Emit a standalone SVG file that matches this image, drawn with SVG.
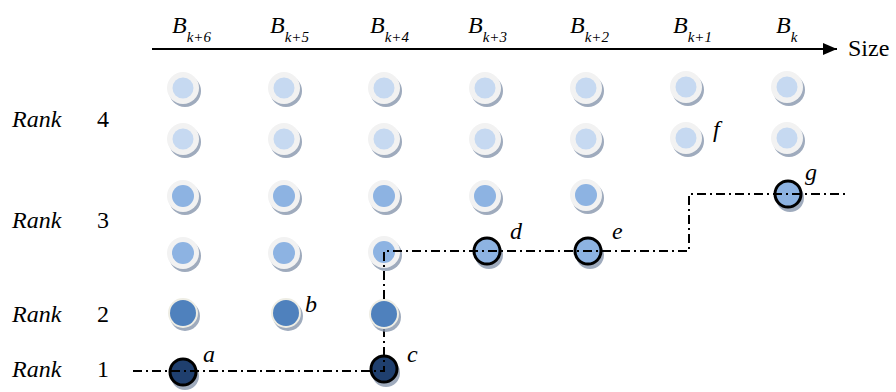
<svg xmlns="http://www.w3.org/2000/svg" width="896" height="392" viewBox="0 0 896 392">
<style>
  text { fill: #000; font-family: "Liberation Serif", Tinos, "Times New Roman", Times, "Nimbus Roman", "DejaVu Serif", "Noto Serif", serif; }
  .lbl { font-size: 24px; font-style: italic; }
  .rk { font-size: 24px; }
  .hb { font-size: 24px; font-style: italic; }
  .sub { font-size: 15px; font-style: italic; }
  .sh { fill: #8796ad; opacity: 0.8; }
  .ring { fill: #f2f2f2; }
  .ring2 { fill: #eeede4; }
  .r4 { fill: #c6d9f1; }
  .r3 { fill: #8db3e2; }
  .r2 { fill: #4f81bd; }
  .sel3 { fill: #8db3e2; stroke: #000; stroke-width: 3; }
  .sel1 { fill: #1f3f6e; stroke: #000; stroke-width: 3; }
  .path { fill: none; stroke: #000; stroke-width: 2; stroke-dasharray: 9 4 2 4; }
</style>
<defs>
  <g id="n4"><circle class="sh" cx="2" cy="3" r="16"/><circle class="ring" r="16"/><circle class="r4" r="10.5"/></g>
  <g id="n3"><circle class="sh" cx="2" cy="3" r="16"/><circle class="ring" r="16"/><circle class="r3" r="11"/></g>
  <g id="n2"><circle class="sh" cx="2" cy="3" r="15"/><circle class="ring2" r="15"/><circle class="r2" r="13"/></g>
  <g id="s3"><circle class="sh" cx="2" cy="4" r="14"/><circle class="sel3" r="13"/></g>
  <g id="s1"><circle class="sh" cx="2" cy="4" r="14"/><circle class="sel1" r="13"/></g>
  <marker id="arr" markerWidth="14" markerHeight="12" refX="14" refY="6" orient="auto" markerUnits="userSpaceOnUse">
    <path d="M0,0 L14,6 L0,12 Z" fill="#000"/>
  </marker>
</defs>
<g id="axis">
  <line x1="152" y1="49" x2="837" y2="49" stroke="#000" stroke-width="2.2" marker-end="url(#arr)"/>
  <text x="848" y="56" class="rk">Size</text>
  <text x="172" y="33" class="hb">B<tspan class="sub" dy="9">k+6</tspan></text>
  <text x="270" y="33" class="hb">B<tspan class="sub" dy="9">k+5</tspan></text>
  <text x="370" y="33" class="hb">B<tspan class="sub" dy="9">k+4</tspan></text>
  <text x="468" y="33" class="hb">B<tspan class="sub" dy="9">k+3</tspan></text>
  <text x="570" y="33" class="hb">B<tspan class="sub" dy="9">k+2</tspan></text>
  <text x="673" y="33" class="hb">B<tspan class="sub" dy="9">k+1</tspan></text>
  <text x="776" y="33" class="hb">B<tspan class="sub" dy="9">k</tspan></text>
</g>

<g id="ranks">
  <text x="12" y="127" class="lbl">Rank</text><text x="97" y="127" class="rk">4</text>
  <text x="12" y="228" class="lbl">Rank</text><text x="97" y="228" class="rk">3</text>
  <text x="12" y="322" class="lbl">Rank</text><text x="97" y="322" class="rk">2</text>
  <text x="12" y="377" class="lbl">Rank</text><text x="97" y="377" class="rk">1</text>
</g>

<g id="rank4">
  <use href="#n4" x="183" y="88"/><use href="#n4" x="284" y="88"/><use href="#n4" x="384" y="88"/><use href="#n4" x="485" y="88"/><use href="#n4" x="586" y="88"/><use href="#n4" x="686" y="87"/><use href="#n4" x="787" y="87"/>
  <use href="#n4" x="183" y="139"/><use href="#n4" x="284" y="139"/><use href="#n4" x="384" y="139"/><use href="#n4" x="485" y="139"/><use href="#n4" x="586" y="139"/><use href="#n4" x="686" y="138"/><use href="#n4" x="787" y="138"/>
</g>
<g id="rank3">
  <use href="#n3" x="183" y="196"/><use href="#n3" x="284" y="196"/><use href="#n3" x="384" y="196"/><use href="#n3" x="485" y="196"/><use href="#n3" x="586" y="195"/>
  <use href="#n3" x="183" y="253"/><use href="#n3" x="284" y="253"/><use href="#n3" x="384" y="252"/>
</g>
<g id="rank2">
  <use href="#n2" x="183" y="313"/><use href="#n2" x="286" y="313"/>
</g>

<g id="node-a"><use href="#s1" x="183" y="372"/><text x="203" y="362" class="lbl">a</text></g>
<g id="node-b"><text x="305" y="312" class="lbl">b</text></g>
<g id="node-c"><use href="#s1" x="384" y="369"/><text x="407" y="362" class="lbl">c</text></g>
<g id="node-d"><use href="#s3" x="487" y="251"/><text x="510" y="239" class="lbl">d</text></g>
<g id="node-e"><use href="#s3" x="588" y="251"/><text x="612" y="239" class="lbl">e</text></g>
<g id="node-f"><text x="713" y="137" class="lbl">f</text></g>
<g id="node-g"><use href="#s3" x="788" y="194"/><text x="805" y="180" class="lbl">g</text></g>

<g id="connectors">
  <path class="path" d="M133,371 H384 V251 H689 V194 H845"/>
</g>
<g id="rank2-col3"><use href="#n2" x="384" y="314"/></g>
</svg>
